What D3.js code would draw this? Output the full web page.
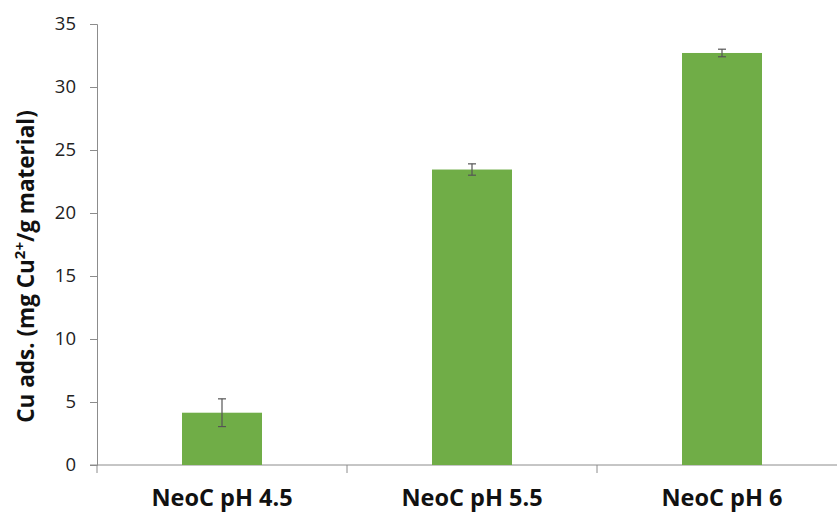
<!DOCTYPE html>
<html><head><meta charset="utf-8">
<script src="https://cdn.jsdelivr.net/npm/d3@7"></script>
<style>body{margin:0;background:#fff}svg{display:block}</style>
</head><body>
<script>
const categories = ["NeoC pH 4.5", "NeoC pH 5.5", "NeoC pH 6"];
const values = [4.15, 23.45, 32.7];
const errors = [1.1, 0.45, 0.3];
const yTicks = [0, 5, 10, 15, 20, 25, 30, 35];

const W = 837, H = 515;
const m = {left: 97, right: -10, top: 24, bottom: 50};
const svg = d3.select("body").append("svg").attr("width", W).attr("height", H);
const x = d3.scaleBand().domain(categories).range([m.left, W - m.right]).paddingInner(0.68).paddingOuter(0.34);
const xb = d3.scaleBand().domain(categories).range([m.left, W - m.right]);
const y = d3.scaleLinear().domain([0, 35]).range([H - m.bottom, m.top]);
const font = "'Open Sans', sans-serif";
const axisColor = "#8c8c8c";

// y axis
const ya = svg.append("g").attr("transform", `translate(${m.left},0)`)
  .call(d3.axisLeft(y).tickValues(yTicks).tickSize(7).tickPadding(14));
ya.select(".domain").attr("stroke", axisColor);
ya.selectAll(".tick line").attr("stroke", axisColor);
ya.selectAll(".tick text").attr("font-family", font).attr("font-size", 18.5).attr("fill", "#222");

// x axis: boundary ticks
const xa = svg.append("g").attr("transform", `translate(0,${y(0)})`);
xa.append("line").attr("x1", m.left - 7).attr("x2", W).attr("y1", 0).attr("y2", 0).attr("stroke", axisColor);
categories.forEach(c => {
  xa.append("line").attr("x1", xb(c)).attr("x2", xb(c)).attr("y1", 0).attr("y2", 8).attr("stroke", axisColor);
});
xa.selectAll("text.cat").data(categories).join("text").attr("class", "cat")
  .attr("x", d => xb(d) + xb.bandwidth() / 2).attr("y", 41)
  .attr("text-anchor", "middle").attr("font-family", font).attr("font-weight", "bold")
  .attr("font-size", 23.5).attr("fill", "#111").text(d => d);

// bars
svg.selectAll("rect.bar").data(values).join("rect").attr("class", "bar")
  .attr("x", (d, i) => x(categories[i])).attr("width", x.bandwidth())
  .attr("y", d => y(d)).attr("height", d => y(0) - y(d)).attr("fill", "#70AD47");

// error bars
const eb = svg.append("g").attr("stroke", "#555").attr("stroke-width", 1.2);
values.forEach((v, i) => {
  const cx = x(categories[i]) + x.bandwidth() / 2;
  eb.append("line").attr("x1", cx).attr("x2", cx).attr("y1", y(v + errors[i])).attr("y2", y(v - errors[i]));
  [v + errors[i], v - errors[i]].forEach(e => {
    eb.append("line").attr("x1", cx - 4).attr("x2", cx + 4).attr("y1", y(e)).attr("y2", y(e));
  });
});

// y label
const yl = svg.append("text").attr("transform", `translate(34,${(y(0) + y(35)) / 2 + 22}) rotate(-90)`)
  .attr("text-anchor", "middle").attr("font-family", font).attr("font-weight", "bold")
  .attr("font-size", 22.5).attr("fill", "#111");
yl.append("tspan").text("Cu ads. (mg Cu");
yl.append("tspan").attr("font-size", 15).attr("dy", -9).text("2+");
yl.append("tspan").attr("dy", 9).text("/g material)");
</script>
</body></html>
